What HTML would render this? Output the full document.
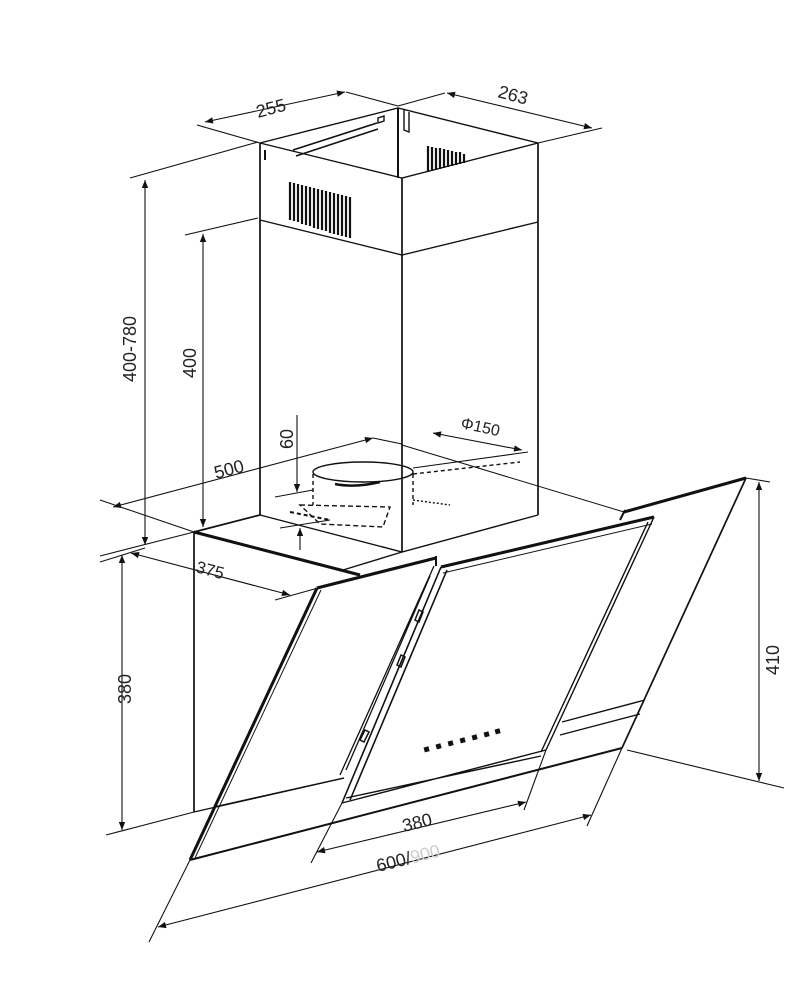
<!DOCTYPE html>
<html><head><meta charset="utf-8"><style>
html,body{margin:0;padding:0;background:#fff;width:800px;height:1000px;overflow:hidden}
svg{display:block}
text{font-family:"Liberation Sans",sans-serif;font-size:18px;fill:#222}
</style></head><body>
<svg width="800" height="1000" viewBox="0 0 800 1000" xmlns="http://www.w3.org/2000/svg">
<defs>
<marker id="a" viewBox="0 0 10 10" refX="10" refY="5" markerWidth="13" markerHeight="8" orient="auto-start-reverse" markerUnits="userSpaceOnUse"><path d="M0,1 L10,5 L0,9 z" fill="#111"/></marker>
</defs>
<g stroke="#111" stroke-width="1.4" fill="none">
<path d="M260,143 L398,108 L538,143 L402,178 Z" />
<path d="M260,143 L260,515 M402,178 L402,552 M538,143 L538,515" stroke-width="1.7"/>
<path d="M260,220 L402,255 L538,222"/>
<path d="M260,515 L402,552 L538,515"/>
<path d="M398,108 L398,178" stroke-width="2"/>
<path d="M404,110 L404,130 L409,132 L409,112" />
<path d="M293,150 L377,123 M296,156 L378,129" stroke-width="1.6"/>
<path d="M378,118 l6,-2 l0,5 l-6,2z" />
<path d="M265,150 L265,160" stroke-width="2"/>
<g stroke-width="2.2">
<path d="M290,182 L290,220 M294,183 L294,221 M298,184 L298,222 M302,185 L302,224 M306,186 L306,225 M310,187 L310,226 M314,188 L314,228 M318,189 L318,229 M322,190 L322,230 M326,191 L326,231 M330,192 L330,233 M334,193 L334,234 M338,194 L338,235 M342,195 L342,236 M346,196 L346,237 M350,197 L350,238"/>
<path d="M428,146 L428,172 M432,147 L432,171 M436,148 L436,170 M440,148 L440,169 M444,149 L444,168 M448,150 L448,167 M452,151 L452,166 M456,152 L456,165 M460,152 L460,164 M464,154 L464,163"/>
</g>
<ellipse cx="363" cy="472" rx="50" ry="10"/>
<path d="M335,484 q20,4 45,-2" stroke-width="2.5"/>
<path d="M313,474 L313,505 M413,474 L413,505" stroke-dasharray="4,3"/>
<path d="M300,505 L390,507 L383,527 L320,524 Z" stroke-dasharray="5,3"/>
<path d="M290,512 L330,520" stroke-width="2" stroke-dasharray="4,3"/>
<path d="M413,474 L520,462" stroke-dasharray="4,3"/>
<path d="M413,500 L450,505" stroke-dasharray="2,2"/>
<path d="M194,532 L260,515 M194,532 L194,812" stroke-width="1.7"/>
<path d="M194,532 L360,575" stroke-width="3"/>
<path d="M194,812 L344,778"/>
<path d="M402,552 L343,570"/>
<path d="M317,588 L436,558" stroke-width="3.2"/>
<path d="M436,556 L436,566" stroke-width="2"/>
<path d="M317,588 L190,860" stroke-width="3"/>
<path d="M321,590 L195,858" stroke-width="1"/>
<path d="M190,860 L622,748" stroke-width="2"/>
<path d="M622,748 L746,478" stroke-width="1.7"/>
<path d="M624,512 L746,478" stroke-width="3"/>
<path d="M620,520 L625,510" stroke-width="2"/>
<path d="M402,445 L624,512" stroke-width="1"/>
<path d="M441,567 L654,517" stroke-width="3"/>
<path d="M443,573 L652,524" stroke-width="1"/>
<path d="M654,517 L546,750 M648,522 L541,752" stroke-width="1.4"/>
<path d="M546,750 L342,803 M541,756 L346,798" stroke-width="1.4"/>
<path d="M441,567 L342,803 M447,570 L350,800" stroke-width="1.6"/>
<path d="M434,566 L340,775 M430,576 L346,770" stroke-width="1.3"/>
<path d="M415,620 l4,-10 l4,2 l-4,10z M397,665 l4,-10 l4,2 l-4,10z M360,740 l5,-10 l4,2 l-5,10z" stroke-width="1.5"/>
<path d="M562,722 L645,700 M560,735 L640,714" stroke-width="1.4"/>
<path d="M214,807 L344,778"/>
<g fill="#111" stroke="none">
<rect x="424" y="747" width="5" height="5" transform="rotate(-15 426 749)"/>
<rect x="436" y="744" width="5" height="5" transform="rotate(-15 438 746)"/>
<rect x="448" y="741" width="5" height="5" transform="rotate(-15 450 743)"/>
<rect x="460" y="738" width="5" height="5" transform="rotate(-15 462 740)"/>
<rect x="472" y="735" width="5" height="5" transform="rotate(-15 474 737)"/>
<rect x="484" y="732" width="5" height="5" transform="rotate(-15 486 734)"/>
<rect x="495" y="729" width="5" height="5" transform="rotate(-15 497 731)"/>
</g>
</g>
<g stroke="#111" stroke-width="1.1" fill="none">
<path d="M197,125 L260,143 M398,106 L346,92 M538,143 L602,128 M398,106 L445,93 "/>
<path d="M205,122 L345,92" marker-start="url(#a)" marker-end="url(#a)"/>
<path d="M447,93 L592,128" marker-start="url(#a)" marker-end="url(#a)"/>
<path d="M130,178 L258,142 M185,235 L258,218"/>
<path d="M145,180 L145,545" marker-start="url(#a)" marker-end="url(#a)"/>
<path d="M203,234 L203,527" marker-start="url(#a)" marker-end="url(#a)"/>
<path d="M297,415 L297,492" marker-end="url(#a)"/>
<path d="M300,550 L300,528" marker-end="url(#a)"/>
<path d="M275,497 L313,490 M280,528 L330,520"/>
<path d="M100,500 L194,532 M100,556 L194,532"/>
<path d="M113,507 L373,438" marker-start="url(#a)" marker-end="url(#a)"/>
<path d="M373,438 L402,444"/>
<path d="M433,433 L522,450" marker-start="url(#a)" marker-end="url(#a)"/>
<path d="M413,468 L528,452"/>
<path d="M122,555 L122,830" marker-start="url(#a)" marker-end="url(#a)"/>
<path d="M100,562 L145,548 M106,835 L194,812"/>
<path d="M131,553 L290,595" marker-start="url(#a)" marker-end="url(#a)"/>
<path d="M275,600 L318,588"/>
<path d="M759,482 L759,781" marker-start="url(#a)" marker-end="url(#a)"/>
<path d="M746,478 L770,482 M627,750 L784,788"/>
<path d="M317,852 L526,802" marker-start="url(#a)" marker-end="url(#a)"/>
<path d="M311,863 L342,803 M524,810 L546,750"/>
<path d="M158,927 L591,815" marker-start="url(#a)" marker-end="url(#a)"/>
<path d="M149,942 L190,860 M587,826 L622,748"/>
</g>
<text transform="translate(258,118) rotate(-15)">255</text>
<text transform="translate(497,97) rotate(15)">263</text>
<text transform="translate(136,382) rotate(-90)">400-780</text>
<text transform="translate(196,378) rotate(-90)">400</text>
<text transform="translate(293,449) rotate(-90)">60</text>
<text transform="translate(216,479) rotate(-15)">500</text>
<text transform="translate(460,428) rotate(12)" style="font-size:16px">Φ150</text>
<text transform="translate(195,572) rotate(15)" style="font-size:17px">375</text>
<text transform="translate(131,704) rotate(-90)">380</text>
<text transform="translate(779,675) rotate(-90)">410</text>
<text transform="translate(404,832) rotate(-14)">380</text>
<text transform="translate(378,872) rotate(-14)">600/<tspan style="fill:#ccc">900</tspan></text>
</svg>
</body></html>
